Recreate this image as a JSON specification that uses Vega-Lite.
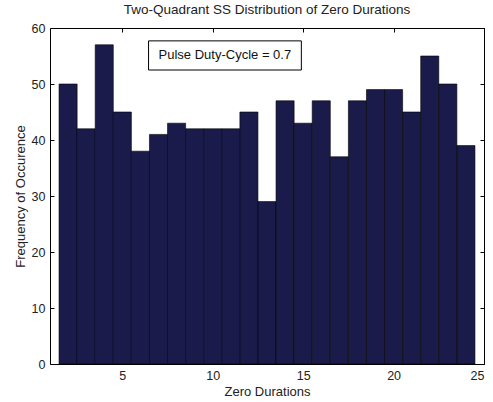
{
  "$schema": "https://vega.github.io/schema/vega-lite/v6.json",
  "width": 434,
  "height": 336,
  "autosize": {"type": "none"},
  "padding": {"left": 50, "top": 28, "right": 9, "bottom": 38},
  "background": "white",
  "title": {"text": "Two-Quadrant SS Distribution of Zero Durations", "font": "Liberation Sans", "fontSize": 13.5, "fontWeight": "normal", "color": "#222", "frame": "group", "anchor": "middle", "offset": 6},
  "config": {
    "view": {"stroke": "#000", "strokeWidth": 1},
    "axis": {"grid": false, "domain": false, "tickColor": "#000", "tickSize": -4, "labelPadding": 9, "labelFont": "Liberation Sans", "labelFontSize": 12.5, "labelColor": "#222", "titleFont": "Liberation Sans", "titleFontSize": 13, "titleFontWeight": "normal", "titleColor": "#222"}
  },
  "layer": [
    {
      "data": {"values": [
        {"bin_start": 1.5, "bin_end": 2.5, "count": 50},
        {"bin_start": 2.5, "bin_end": 3.5, "count": 42},
        {"bin_start": 3.5, "bin_end": 4.5, "count": 57},
        {"bin_start": 4.5, "bin_end": 5.5, "count": 45},
        {"bin_start": 5.5, "bin_end": 6.5, "count": 38},
        {"bin_start": 6.5, "bin_end": 7.5, "count": 41},
        {"bin_start": 7.5, "bin_end": 8.5, "count": 43},
        {"bin_start": 8.5, "bin_end": 9.5, "count": 42},
        {"bin_start": 9.5, "bin_end": 10.5, "count": 42},
        {"bin_start": 10.5, "bin_end": 11.5, "count": 42},
        {"bin_start": 11.5, "bin_end": 12.5, "count": 45},
        {"bin_start": 12.5, "bin_end": 13.5, "count": 29},
        {"bin_start": 13.5, "bin_end": 14.5, "count": 47},
        {"bin_start": 14.5, "bin_end": 15.5, "count": 43},
        {"bin_start": 15.5, "bin_end": 16.5, "count": 47},
        {"bin_start": 16.5, "bin_end": 17.5, "count": 37},
        {"bin_start": 17.5, "bin_end": 18.5, "count": 47},
        {"bin_start": 18.5, "bin_end": 19.5, "count": 49},
        {"bin_start": 19.5, "bin_end": 20.5, "count": 49},
        {"bin_start": 20.5, "bin_end": 21.5, "count": 45},
        {"bin_start": 21.5, "bin_end": 22.5, "count": 55},
        {"bin_start": 22.5, "bin_end": 23.5, "count": 50},
        {"bin_start": 23.5, "bin_end": 24.5, "count": 39}
      ]},
      "mark": {"type": "rect", "fill": "#1b1b4b", "stroke": "#000", "strokeWidth": 0.6},
      "encoding": {
        "x": {"field": "bin_start", "type": "quantitative", "scale": {"domain": [1, 25], "nice": false, "zero": false}, "axis": {"orient": "bottom", "values": [5, 10, 15, 20, 25], "title": "Zero Durations", "titlePadding": 4}},
        "x2": {"field": "bin_end"},
        "y": {"field": "count", "type": "quantitative", "scale": {"domain": [0, 60], "nice": false}, "axis": {"orient": "left", "values": [0, 10, 20, 30, 40, 50, 60], "title": "Frequency of Occurence", "titlePadding": 4}},
        "y2": {"datum": 0}
      }
    },
    {
      "data": {"values": [{"label": "Pulse Duty-Cycle = 0.7"}]},
      "mark": {"type": "rect", "fill": "white", "stroke": "#000", "strokeWidth": 1},
      "encoding": {
        "x": {"datum": 6.45, "type": "quantitative", "scale": {"domain": [1, 25], "nice": false, "zero": false}, "axis": {"orient": "top", "values": [5, 10, 15, 20, 25], "labels": false, "title": null}},
        "x2": {"datum": 14.9},
        "y": {"datum": 57.7, "type": "quantitative", "scale": {"domain": [0, 60], "nice": false}, "axis": {"orient": "right", "values": [0, 10, 20, 30, 40, 50, 60], "labels": false, "title": null}},
        "y2": {"datum": 52.5}
      }
    },
    {
      "data": {"values": [{"label": "Pulse Duty-Cycle = 0.7"}]},
      "mark": {"type": "text", "font": "Liberation Sans", "fontSize": 13, "fill": "#111", "align": "center", "baseline": "middle"},
      "encoding": {
        "text": {"field": "label"},
        "x": {"datum": 10.67, "type": "quantitative", "axis": null},
        "y": {"datum": 55.1, "type": "quantitative", "axis": null}
      }
    }
  ],
  "resolve": {"axis": {"x": "independent", "y": "independent"}}
}
